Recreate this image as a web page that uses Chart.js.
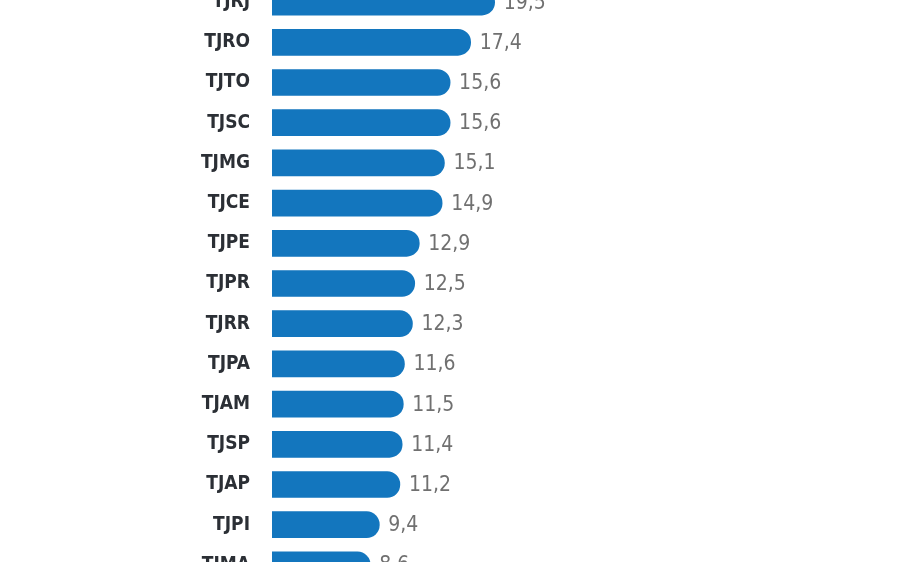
<!DOCTYPE html>
<html>
<head>
<meta charset="utf-8">
<script src="https://cdn.jsdelivr.net/npm/chart.js@4"></script>
<style>
    html, body { margin: 0; padding: 0; background: #fff; overflow: hidden; }
    body { width: 900px; height: 562px; position: relative; }
    #wrap { position: absolute; left: 0; top: -18px; width: 900px; height: 603px; }
</style>
</head>
<body>
<div id="wrap"><canvas id="tribunais-chart"></canvas></div>
<script>
const tribunais = ['TJRJ', 'TJRO', 'TJTO', 'TJSC', 'TJMG', 'TJCE', 'TJPE', 'TJPR',
    'TJRR', 'TJPA', 'TJAM', 'TJSP', 'TJAP', 'TJPI', 'TJMA'];
const valores = [19.5, 17.4, 15.6, 15.6, 15.1, 14.9, 12.9, 12.5,
    12.3, 11.6, 11.5, 11.4, 11.2, 9.4, 8.6];

document.addEventListener("DOMContentLoaded", mainJs);

function mainJs(){
    const ctx = document.getElementById('tribunais-chart');

    // values written after the rounded end of each bar
    const valueLabels = {
        id: 'valueLabels',
        afterDatasetsDraw(chart) {
            const c = chart.ctx;
            const meta = chart.getDatasetMeta(0);
            c.save();
            c.font = '300 21px "Liberation Sans Narrow", "DejaVu Sans Condensed", sans-serif';
            c.fillStyle = '#707070';
            c.textAlign = 'left';
            c.textBaseline = 'middle';
            meta.data.forEach((bar, i) => {
                const txt = valores[i].toFixed(1).replace('.', ',');
                c.fillText(txt, bar.x + 9, bar.y + 1);
            });
            c.restore();
        }
    };

    new Chart(ctx, {
        type: 'bar',
        data: {
            labels: tribunais,
            datasets: [{
                data: valores,
                backgroundColor: '#1376be',
                borderRadius: 13,
                borderSkipped: 'start',
                barThickness: 26
            }]
        },
        plugins: [valueLabels],
        options: {
            indexAxis: 'y',
            responsive: true,
            maintainAspectRatio: false,
            animation: false,
            layout: { padding: 0 },
            plugins: {
                legend: { display: false },
                tooltip: { enabled: false }
            },
            scales: {
                x: {
                    display: false,
                    min: 0,
                    max: 55
                },
                y: {
                    afterFit(scale) {
                        scale.width = 272;
                        scale.paddingTop = 0;
                        scale.paddingBottom = 0;
                    },
                    grid: { display: false, drawTicks: false },
                    border: { display: false },
                    ticks: {
                        padding: 22,
                        color: '#2b2f35',
                        font: {
                            family: '"Liberation Sans Narrow", "DejaVu Sans Condensed", sans-serif',
                            size: 19,
                            weight: 'bold'
                        }
                    }
                }
            }
        }
    });
}
</script>
</body>
</html>
